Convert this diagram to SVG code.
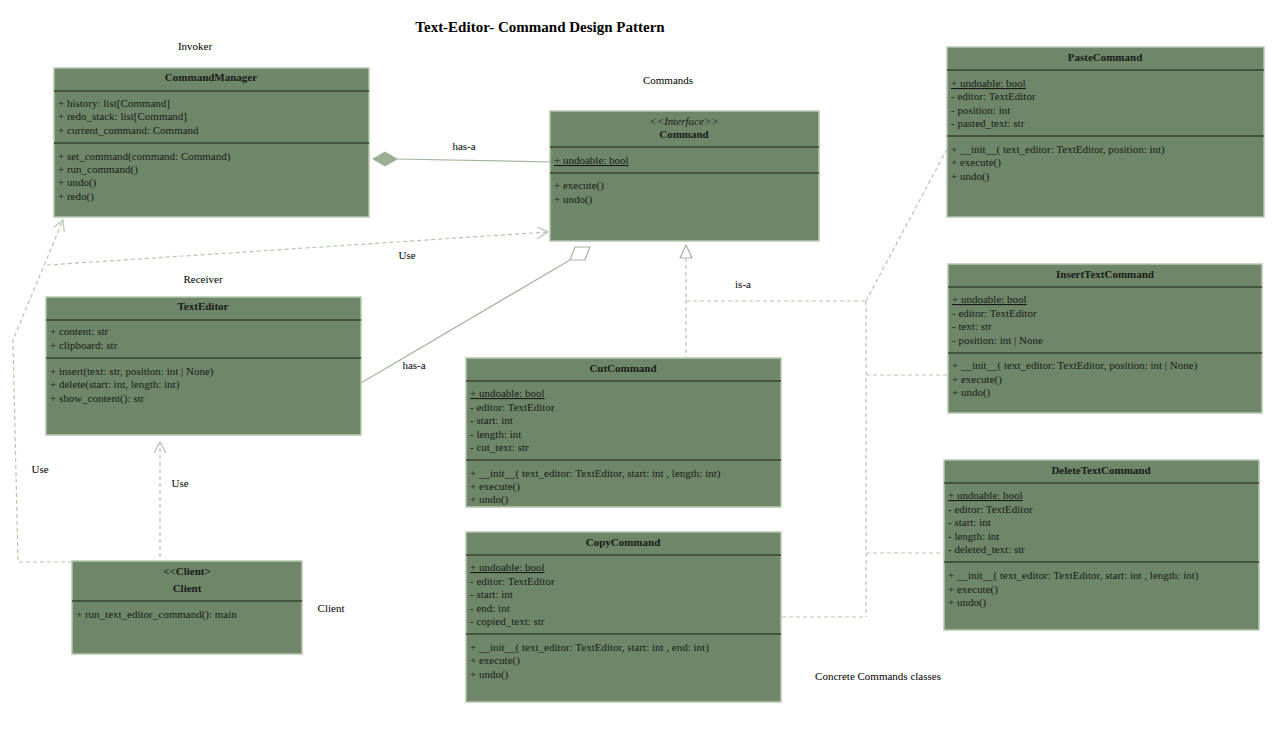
<svg xmlns="http://www.w3.org/2000/svg" width="1278" height="739" viewBox="0 0 1278 739">
<style>
.box{fill:#6f8769;stroke:#b7c8b1;stroke-width:1.5}
.dv{stroke:#37452f;stroke-width:1.5}
text{font-family:"Liberation Serif","Times New Roman",serif;font-size:11px;fill:#1a1a1a}
.b{font-weight:bold}
.m{text-anchor:middle}
.u{text-decoration:underline}
.i{font-style:italic}
.lbl{fill:#000}
.ln{fill:none;stroke:#a3b69d;stroke-width:1.2}
.dash{fill:none;stroke:#b5c5b0;stroke-width:1.2;stroke-dasharray:4 3}
</style>
<defs>
<marker id="open" viewBox="0 0 12 12" refX="11" refY="6" markerWidth="12" markerHeight="12" markerUnits="userSpaceOnUse" orient="auto">
<path d="M0,0 L11,6 L0,12" fill="none" stroke="#b5c5b0" stroke-width="1.2"/>
</marker>
</defs>
<rect width="1278" height="739" fill="#fff"/>
<text x="540" y="32" class="b m lbl" style="font-size:15px">Text-Editor- Command Design Pattern</text>
<text x="195" y="50" class="m lbl">Invoker</text>
<text x="668" y="84" class="m lbl">Commands</text>
<text x="203" y="283" class="m lbl">Receiver</text>
<text x="331" y="612" class="m lbl">Client</text>
<text x="878" y="680" class="m lbl">Concrete Commands classes</text>

<g id="connectors">
<!-- composition CommandManager - Command -->
<line x1="397" y1="159" x2="557" y2="162" class="ln"/>
<polygon points="373,159 385,152 397,159 385,166" fill="#9aae94" stroke="#9aae94"/>
<text x="464" y="150" class="m lbl">has-a</text>
<!-- Use CommandManager -> Command -->
<line x1="47" y1="265" x2="548" y2="232" class="dash" marker-end="url(#open)"/>
<text x="407" y="259" class="m lbl">Use</text>
<!-- Client -> CommandManager -->
<polyline points="72,562 18,562 13,340 63,220" class="dash" marker-end="url(#open)"/>
<text x="40" y="473" class="m lbl">Use</text>
<!-- Client -> TextEditor -->
<line x1="160" y1="557" x2="160" y2="442" class="dash" marker-end="url(#open)"/>
<text x="180" y="487" class="m lbl">Use</text>
<!-- aggregation TextEditor - Command -->
<line x1="361" y1="383" x2="570" y2="260" class="ln"/>
<polygon points="570,260 575,247 590,247 585,260" fill="#fff" stroke="#a3b69d" stroke-width="1.2"/>
<text x="414" y="369" class="m lbl">has-a</text>
<!-- realization -->
<polygon points="686,245 680,258 692,258" fill="#fff" stroke="#a3b69d" stroke-width="1.2"/>
<line x1="686" y1="258" x2="686" y2="357" class="dash"/>
<line x1="686" y1="301" x2="866" y2="301" class="dash"/>
<line x1="866" y1="301" x2="947" y2="149" class="dash"/>
<line x1="866" y1="301" x2="866" y2="617" class="dash"/>
<line x1="866" y1="375" x2="948" y2="375" class="dash"/>
<line x1="866" y1="553" x2="944" y2="553" class="dash"/>
<line x1="782" y1="617" x2="866" y2="617" class="dash"/>
<text x="743" y="288" class="m lbl">is-a</text>
</g>

<g id="CommandManager">
<rect x="54" y="68" width="315" height="149" class="box"/>
<text x="211" y="81" class="b m">CommandManager</text>
<line x1="54" y1="91" x2="369" y2="91" class="dv"/>
<text x="58" y="107">+ history: list[Command]</text>
<text x="58" y="120">+ redo_stack: list[Command]</text>
<text x="58" y="134">+ current_command: Command</text>
<line x1="54" y1="143" x2="369" y2="143" class="dv"/>
<text x="58" y="160">+ set_command(command: Command)</text>
<text x="58" y="173">+ run_command()</text>
<text x="58" y="186">+ undo()</text>
<text x="58" y="200">+ redo()</text>
</g>

<g id="Command">
<rect x="550" y="111" width="269" height="130" class="box"/>
<text x="684" y="125" class="i m">&lt;&lt;Interface&gt;&gt;</text>
<text x="684" y="138" class="b m">Command</text>
<line x1="550" y1="147" x2="819" y2="147" class="dv"/>
<text x="554" y="164" class="u">+ undoable: bool</text>
<line x1="550" y1="173" x2="819" y2="173" class="dv"/>
<text x="554" y="189">+ execute()</text>
<text x="554" y="203">+ undo()</text>
</g>

<g id="TextEditor">
<rect x="46" y="297" width="315" height="138" class="box"/>
<text x="203" y="310" class="b m">TextEditor</text>
<line x1="46" y1="320" x2="361" y2="320" class="dv"/>
<text x="50" y="335">+ content: str</text>
<text x="50" y="349">+ clipboard: str</text>
<line x1="46" y1="358" x2="361" y2="358" class="dv"/>
<text x="50" y="375">+ insert(text: str, position: int | None)</text>
<text x="50" y="388">+ delete(start: int, length: int)</text>
<text x="50" y="402">+ show_content(): str</text>
</g>

<g id="Client">
<rect x="72" y="561" width="230" height="93" class="box"/>
<text x="187" y="575" class="b m">&lt;&lt;Client&gt;</text>
<text x="187" y="592" class="b m">Client</text>
<line x1="72" y1="601" x2="302" y2="601" class="dv"/>
<text x="76" y="618">+ run_text_editor_command(): main</text>
</g>

<g id="CutCommand">
<rect x="466" y="358" width="315" height="149" class="box"/>
<text x="623" y="372" class="b m">CutCommand</text>
<line x1="466" y1="381" x2="781" y2="381" class="dv"/>
<text x="470" y="397" class="u">+ undoable: bool</text>
<text x="470" y="411">- editor: TextEditor</text>
<text x="470" y="424">- start: int</text>
<text x="470" y="438">- length: int</text>
<text x="470" y="451">- cut_text: str</text>
<line x1="466" y1="460" x2="781" y2="460" class="dv"/>
<text x="470" y="477">+ __init__( text_editor: TextEditor, start: int , length: int)</text>
<text x="470" y="490">+ execute()</text>
<text x="470" y="503">+ undo()</text>
</g>

<g id="CopyCommand">
<rect x="466" y="532" width="315" height="170" class="box"/>
<text x="623" y="546" class="b m">CopyCommand</text>
<line x1="466" y1="555" x2="781" y2="555" class="dv"/>
<text x="470" y="571" class="u">+ undoable: bool</text>
<text x="470" y="585">- editor: TextEditor</text>
<text x="470" y="598">- start: int</text>
<text x="470" y="612">- end: int</text>
<text x="470" y="625">- copied_text: str</text>
<line x1="466" y1="634" x2="781" y2="634" class="dv"/>
<text x="470" y="651">+ __init__( text_editor: TextEditor, start: int , end: int)</text>
<text x="470" y="664">+ execute()</text>
<text x="470" y="678">+ undo()</text>
</g>

<g id="PasteCommand">
<rect x="947" y="47" width="317" height="170" class="box"/>
<text x="1105" y="61" class="b m">PasteCommand</text>
<line x1="947" y1="70" x2="1264" y2="70" class="dv"/>
<text x="951" y="87" class="u">+ undoable: bool</text>
<text x="951" y="100">- editor: TextEditor</text>
<text x="951" y="114">- position: int</text>
<text x="951" y="127">- pasted_text: str</text>
<line x1="947" y1="136" x2="1264" y2="136" class="dv"/>
<text x="951" y="153">+ __init__( text_editor: TextEditor, position: int)</text>
<text x="951" y="166">+ execute()</text>
<text x="951" y="180">+ undo()</text>
</g>

<g id="InsertTextCommand">
<rect x="948" y="264" width="314" height="149" class="box"/>
<text x="1105" y="278" class="b m">InsertTextCommand</text>
<line x1="948" y1="287" x2="1262" y2="287" class="dv"/>
<text x="952" y="303" class="u">+ undoable: bool</text>
<text x="952" y="317">- editor: TextEditor</text>
<text x="952" y="330">- text: str</text>
<text x="952" y="344">- position: int | None</text>
<line x1="948" y1="353" x2="1262" y2="353" class="dv"/>
<text x="952" y="369">+ __init__( text_editor: TextEditor, position: int | None)</text>
<text x="952" y="383">+ execute()</text>
<text x="952" y="396">+ undo()</text>
</g>

<g id="DeleteTextCommand">
<rect x="944" y="460" width="315" height="170" class="box"/>
<text x="1101" y="474" class="b m">DeleteTextCommand</text>
<line x1="944" y1="483" x2="1259" y2="483" class="dv"/>
<text x="948" y="499" class="u">+ undoable: bool</text>
<text x="948" y="513">- editor: TextEditor</text>
<text x="948" y="526">- start: int</text>
<text x="948" y="540">- length: int</text>
<text x="948" y="553">- deleted_text: str</text>
<line x1="944" y1="562" x2="1259" y2="562" class="dv"/>
<text x="948" y="579">+ __init__( text_editor: TextEditor, start: int , length: int)</text>
<text x="948" y="593">+ execute()</text>
<text x="948" y="606">+ undo()</text>
</g>
</svg>
